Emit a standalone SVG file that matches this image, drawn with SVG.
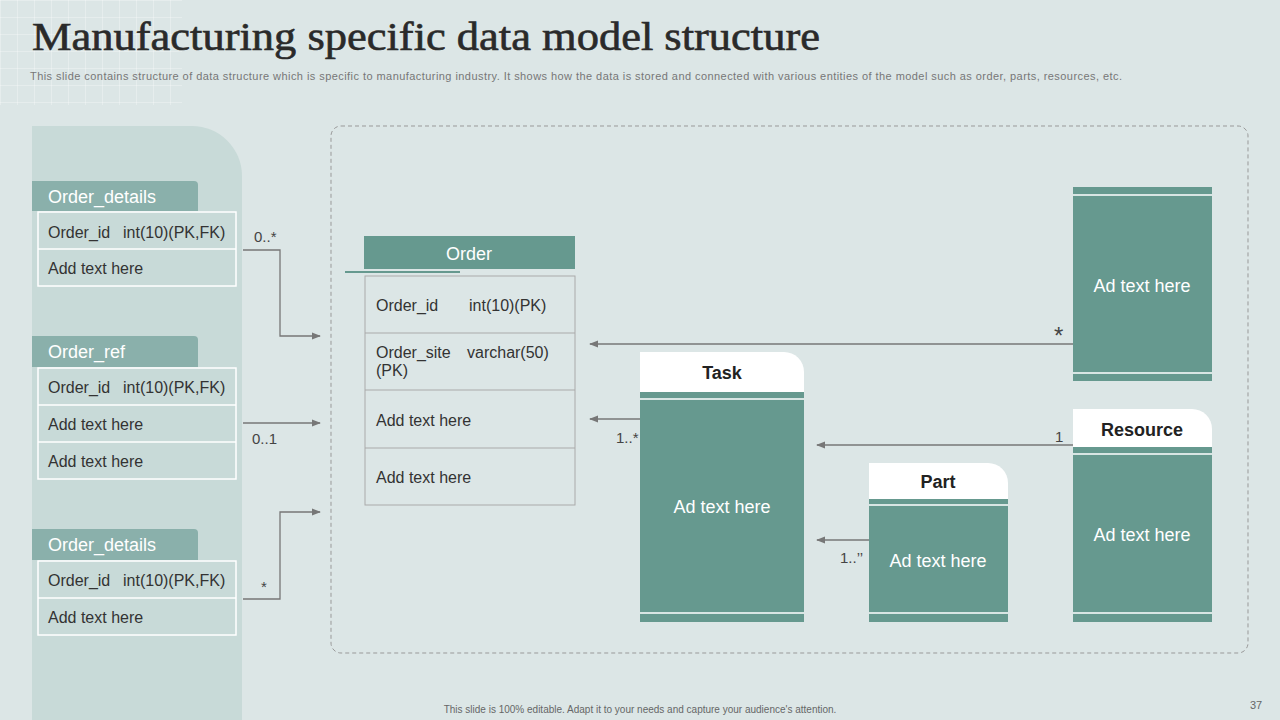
<svg xmlns="http://www.w3.org/2000/svg" width="1280" height="720" viewBox="0 0 1280 720">
<defs>
<style>
.s{font-family:"Liberation Sans",Arial,sans-serif}
.hd{fill:#fff;font-size:18px}
.cell{fill:none;stroke:#fff;stroke-width:1.5}
.ct{fill:#333;font-size:16px}
.teal{fill:#66998f}
.wl{stroke:#fff;stroke-width:1.5}
.wt{fill:#fff;font-size:18px}
.bt{fill:#222;font-size:18px;font-weight:bold}
.cn{fill:none;stroke:#777;stroke-width:1.3}
.lb{fill:#444;font-size:15px}
</style>
<marker id="ar" viewBox="0 0 10 10" refX="9" refY="5" markerWidth="7" markerHeight="7" orient="auto"><path d="M0,1 L10,5 L0,9 Z" fill="#777"/></marker>
<pattern id="grid" width="17" height="17" patternUnits="userSpaceOnUse"><path d="M17,0 L0,0 0,17" fill="none" stroke="#fff" stroke-width="0.8" opacity="0.7"/></pattern>
</defs>
<rect width="1280" height="720" fill="#dce6e6"/>
<rect x="0" y="0" width="182" height="105" fill="url(#grid)"/>
<text x="32" y="50" font-family="'Liberation Serif',serif" font-size="39" fill="#2a2a2a" stroke="#2a2a2a" stroke-width="0.6" textLength="788" lengthAdjust="spacingAndGlyphs">Manufacturing specific data model structure</text>
<text class="s" x="30" y="80" font-size="11" fill="#777" textLength="1092">This slide contains structure of data structure which is specific to manufacturing industry. It shows how the data is stored and connected with various entities of the model such as order, parts, resources, etc.</text>
<path d="M32,126 H192 A50,50 0 0 1 242,176 V720 H32 Z" fill="#c8dad8"/>
<rect x="331" y="126" width="917" height="527" rx="10" fill="none" stroke="#999" stroke-dasharray="4,3"/>

<g id="order_details1" class="s">
<path d="M32,181 H194 Q198,181 198,185 V211 H32 Z" fill="#8ab0ab"/>
<text class="hd" x="48" y="203">Order_details</text>
<rect class="cell" x="38" y="212" width="198" height="74"/><line class="cell" x1="38" y1="249" x2="236" y2="249"/>
<text class="ct" x="48" y="238">Order_id</text><text class="ct" x="123" y="238">int(10)(PK,FK)</text>
<text class="ct" x="48" y="274">Add text here</text>
</g>
<g id="order_ref" class="s">
<path d="M32,336 H194 Q198,336 198,340 V367 H32 Z" fill="#8ab0ab"/>
<text class="hd" x="48" y="358">Order_ref</text>
<rect class="cell" x="38" y="368" width="198" height="111"/><line class="cell" x1="38" y1="405" x2="236" y2="405"/><line class="cell" x1="38" y1="442" x2="236" y2="442"/>
<text class="ct" x="48" y="393">Order_id</text><text class="ct" x="123" y="393">int(10)(PK,FK)</text>
<text class="ct" x="48" y="430">Add text here</text>
<text class="ct" x="48" y="467">Add text here</text>
</g>
<g id="order_details2" class="s">
<path d="M32,529 H194 Q198,529 198,533 V560 H32 Z" fill="#8ab0ab"/>
<text class="hd" x="48" y="551">Order_details</text>
<rect class="cell" x="38" y="561" width="198" height="74"/><line class="cell" x1="38" y1="598" x2="236" y2="598"/>
<text class="ct" x="48" y="586">Order_id</text><text class="ct" x="123" y="586">int(10)(PK,FK)</text>
<text class="ct" x="48" y="623">Add text here</text>
</g>

<g id="order" class="s">
<rect x="364" y="236" width="211" height="33" fill="#66998f"/>
<text class="wt" x="469" y="260" text-anchor="middle">Order</text>
<line x1="345" y1="272" x2="460" y2="272" stroke="#66998f" stroke-width="2"/>
<rect x="365" y="276" width="210" height="229" fill="none" stroke="#aaa"/>
<line x1="365" y1="333" x2="575" y2="333" stroke="#aaa"/><line x1="365" y1="390" x2="575" y2="390" stroke="#aaa"/><line x1="365" y1="448" x2="575" y2="448" stroke="#aaa"/>
<text class="ct" x="376" y="311">Order_id</text><text class="ct" x="469" y="311">int(10)(PK)</text>
<text class="ct" x="376" y="358">Order_site</text><text class="ct" x="467" y="358">varchar(50)</text>
<text class="ct" x="376" y="376">(PK)</text>
<text class="ct" x="376" y="426">Add text here</text>
<text class="ct" x="376" y="483">Add text here</text>
</g>

<g id="task" class="s">
<path d="M640,352 H784 A20,20 0 0 1 804,372 V392 H640 Z" fill="#fff"/>
<text class="bt" x="722" y="379" text-anchor="middle">Task</text>
<rect class="teal" x="640" y="392" width="164" height="230"/>
<line class="wl" x1="640" y1="399" x2="804" y2="399"/><line class="wl" x1="640" y1="613" x2="804" y2="613"/>
<text class="wt" x="722" y="513" text-anchor="middle">Ad text here</text>
</g>
<g id="part" class="s">
<path d="M869,463 H988 A20,20 0 0 1 1008,483 V499 H869 Z" fill="#fff"/>
<text class="bt" x="938" y="488" text-anchor="middle">Part</text>
<rect class="teal" x="869" y="499" width="139" height="123"/>
<line class="wl" x1="869" y1="505" x2="1008" y2="505"/><line class="wl" x1="869" y1="613" x2="1008" y2="613"/>
<text class="wt" x="938" y="567" text-anchor="middle">Ad text here</text>
</g>
<g id="resource" class="s">
<path d="M1073,409 H1192 A20,20 0 0 1 1212,429 V447 H1073 Z" fill="#fff"/>
<text class="bt" x="1142" y="436" text-anchor="middle">Resource</text>
<rect class="teal" x="1073" y="447" width="139" height="175"/>
<line class="wl" x1="1073" y1="454" x2="1212" y2="454"/><line class="wl" x1="1073" y1="613" x2="1212" y2="613"/>
<text class="wt" x="1142" y="541" text-anchor="middle">Ad text here</text>
</g>
<g id="top_right" class="s">
<rect class="teal" x="1073" y="187" width="139" height="194"/>
<line class="wl" x1="1073" y1="195" x2="1212" y2="195"/><line class="wl" x1="1073" y1="373" x2="1212" y2="373"/>
<text class="wt" x="1142" y="292" text-anchor="middle">Ad text here</text>
</g>

<g id="connectors" class="s">
<path class="cn" d="M243,250 H280 V336 H320" marker-end="url(#ar)"/>
<path class="cn" d="M243,423 H320" marker-end="url(#ar)"/>
<path class="cn" d="M243,599 H280 V512 H320" marker-end="url(#ar)"/>
<path class="cn" d="M1073,344 H590" marker-end="url(#ar)"/>
<path class="cn" d="M640,419 H590" marker-end="url(#ar)"/>
<path class="cn" d="M1073,445 H817" marker-end="url(#ar)"/>
<path class="cn" d="M869,540 H817" marker-end="url(#ar)"/>
<text class="lb" x="254" y="242">0..*</text>
<text class="lb" x="252" y="444">0..1</text>
<text class="lb" x="261" y="592">*</text>
<text class="lb" x="1054" y="344" style="font-size:24px">*</text>
<text class="lb" x="616" y="443">1..*</text>
<text class="lb" x="1055" y="442">1</text>
<text class="lb" x="840" y="563">1..’’</text>
</g>
<text class="s" x="640" y="713" font-size="10" fill="#666" text-anchor="middle">This slide is 100% editable.  Adapt it to your needs and capture your audience's attention.</text>
<text class="s" x="1250" y="709" font-size="11" fill="#666">37</text>
</svg>
